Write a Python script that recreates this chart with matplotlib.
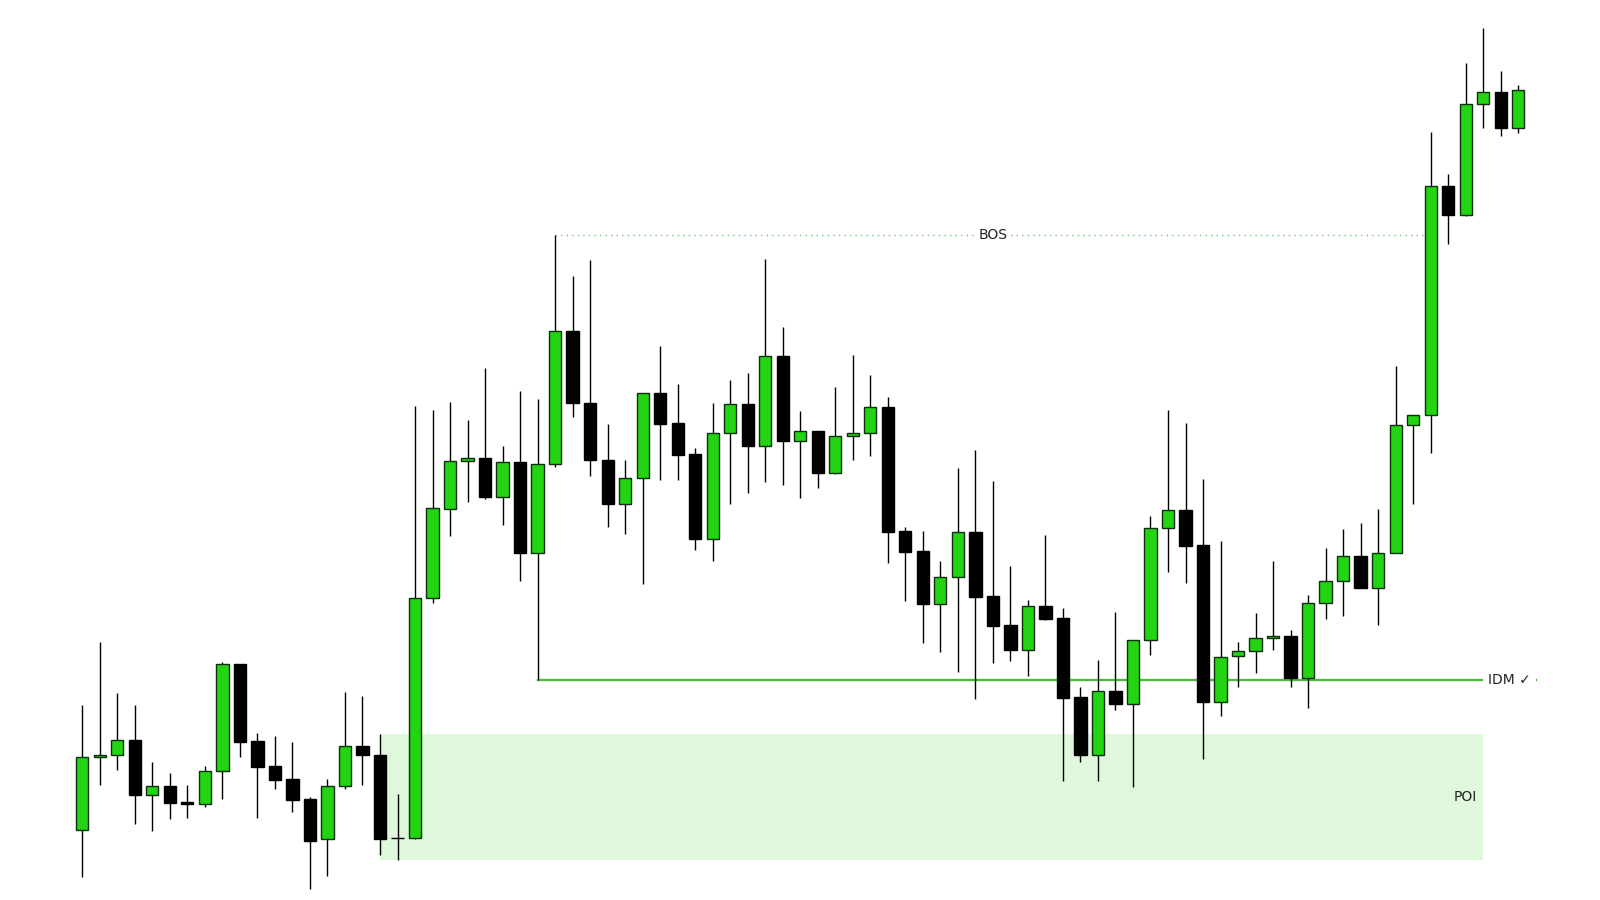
import matplotlib.pyplot as plt
import numpy as np

# candle prices (arbitrary price units)
opens = [70, 143, 145, 160, 105, 114, 98, 96, 129, 236,
         159, 134, 121, 101, 61, 114, 154, 145, 62, 62,
         302, 391, 439, 442, 403, 438, 347, 436, 569, 497,
         440, 396, 422, 507, 477, 446, 361, 467, 496, 454,
         544, 459, 469, 427, 464, 467, 493, 369, 349, 296,
         323, 368, 304, 275, 250, 294, 282, 203, 145, 209,
         196, 260, 372, 390, 355, 198, 244, 249, 262, 264,
         222, 297, 319, 344, 312, 347, 475, 485, 714, 685,
         796, 808, 772]
highs = [195, 258, 207, 195, 138, 127, 115, 134, 238, 236,
         167, 164, 158, 103, 121, 208, 204, 166, 106, 494,
         490, 498, 480, 532, 454, 509, 501, 665, 624, 640,
         476, 440, 507, 554, 516, 452, 497, 520, 527, 641,
         573, 489, 469, 513, 545, 525, 503, 373, 369, 339,
         432, 450, 419, 334, 300, 365, 292, 213, 240, 288,
         260, 384, 490, 477, 421, 359, 258, 287, 339, 270,
         305, 352, 371, 377, 391, 534, 485, 768, 726, 837,
         872, 829, 815]
lows = [23, 115, 130, 76, 69, 81, 82, 93, 101, 143,
        82, 111, 88, 11, 24, 111, 115, 45, 40, 61,
        297, 364, 398, 401, 375, 319, 220, 433, 483, 424,
        373, 366, 316, 420, 420, 350, 339, 396, 407, 418,
        415, 402, 412, 426, 440, 444, 337, 299, 257, 248,
        228, 201, 237, 239, 224, 280, 119, 138, 119, 190,
        113, 245, 328, 317, 141, 184, 213, 227, 250, 213,
        192, 281, 284, 312, 275, 347, 396, 447, 656, 684,
        772, 764, 767]
closes = [143, 145, 160, 105, 114, 97, 96, 129, 236, 158,
          133, 120, 100, 59, 114, 154, 145, 61, 62, 302,
          392, 439, 442, 403, 438, 347, 436, 569, 497, 440,
          396, 422, 507, 476, 445, 361, 467, 496, 454, 544,
          459, 469, 427, 464, 467, 493, 368, 348, 296, 323,
          368, 303, 274, 250, 294, 281, 202, 145, 209, 196,
          260, 372, 390, 354, 198, 243, 249, 262, 264, 222,
          297, 319, 344, 312, 347, 475, 485, 714, 685, 796,
          808, 772, 810]

# annotation levels
bos_level = 665      # high of candle 28
bos_from, bos_to = 27, 77
idm_level = 220      # low of candle 27
idm_from, idm_to = 26, 83.0
poi_top, poi_bottom = 166, 40
poi_from, poi_to = 17, 80

o = np.array(opens, dtype=float)
h = np.array(highs, dtype=float)
l = np.array(lows, dtype=float)
c = np.array(closes, dtype=float)
x = np.arange(len(o))

up = c > o
green = '#22d411'

fig = plt.figure(figsize=(16, 9), dpi=100)
ax = fig.add_axes([0, 0, 1, 1])
ax.axis('off')

# POI zone
ax.fill_between([poi_from, poi_to], poi_bottom, poi_top, color='#dff7da', lw=0, zorder=0)
ax.text(79, 103, 'POI', ha='center', va='center', fontsize=10, color='#222222', zorder=5)

# IDM line
ax.plot([idm_from, idm_to], [idm_level, idm_level], color='#4cbb3c', lw=1.7, zorder=1)
ax.text(81.5, idm_level, 'IDM ✓', ha='center', va='center', fontsize=10, color='#222222',
        bbox=dict(facecolor='white', edgecolor='none', pad=3.5), zorder=5)

# BOS line
ax.plot([bos_from, bos_to], [bos_level, bos_level], color='#7cc47c', lw=1.0,
        linestyle=(0, (1, 3)), zorder=1)
ax.text((bos_from + bos_to) / 2, bos_level, 'BOS', ha='center', va='center', fontsize=10,
        color='#222222', bbox=dict(facecolor='white', edgecolor='none', pad=2), zorder=5)

# wicks
ax.vlines(x, l, h, color='black', lw=1.0, zorder=2)

# bodies
bottom = np.minimum(o, c)
height = np.abs(c - o)
colors = np.where(up, green, 'black')
edges = np.where(up, '#0d2e0d', 'black')
ax.bar(x, height, bottom=bottom, width=0.7, color=colors, edgecolor=edges,
       linewidth=1.0, zorder=3)

ax.set_xlim(-4.70, 86.67)
ax.set_ylim(0, 900)

fig.savefig('out.png', dpi=100)
